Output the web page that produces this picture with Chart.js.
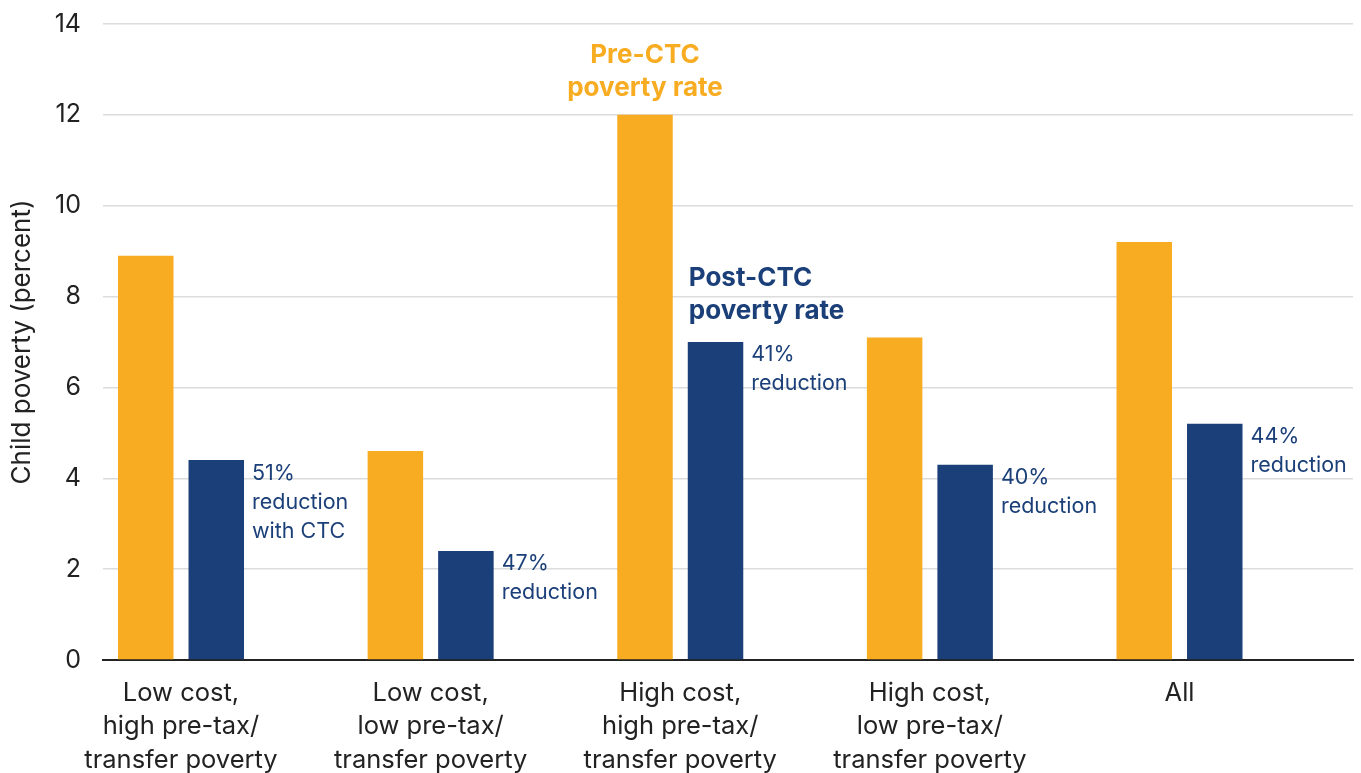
<!DOCTYPE html>
<html>
<head>
<meta charset="utf-8">
<script src="https://cdn.jsdelivr.net/npm/chart.js@4/dist/chart.umd.min.js"></script>
<style>
  body { margin: 0; background: #fff; }
  #wrap { width: 1361px; height: 773px; }
</style>
</head>
<body>
<div id="wrap"><canvas id="myChart"></canvas></div>
<script>
var categories = [
  ['Low cost,', 'high pre-tax/', 'transfer poverty'],
  ['Low cost,', 'low pre-tax/', 'transfer poverty'],
  ['High cost,', 'high pre-tax/', 'transfer poverty'],
  ['High cost,', 'low pre-tax/', 'transfer poverty'],
  ['All']
]
var pre_ctc = [8.9, 4.6, 12.0, 7.1, 9.2]
var post_ctc = [4.4, 2.4, 7.0, 4.3, 5.2]
var reduction_labels = [
  ['51%', 'reduction', 'with CTC'],
  ['47%', 'reduction'],
  ['41%', 'reduction'],
  ['40%', 'reduction'],
  ['44%', 'reduction']
]
var y_ticks = [0, 2, 4, 6, 8, 10, 12, 14]

var orange = '#F7AC22'
var navy = '#1B3F78'
var fontFamily = 'Inter, "Noto Sans", sans-serif'

function toPoints(values) {
  return values.map(function (v, i) { return { x: i, y: v } })
}

// text next to / above the bars, placed from the bar elements
var annotations = {
  id: 'annotations',
  afterDatasetsDraw: function (chart) {
    var ctx = chart.ctx
    var preBars = chart.getDatasetMeta(0).data
    var postBars = chart.getDatasetMeta(1).data
    ctx.save()
    ctx.textBaseline = 'middle'

    ctx.fillStyle = navy
    ctx.textAlign = 'left'
    ctx.font = '21.5px ' + fontFamily
    postBars.forEach(function (bar, i) {
      var x = bar.x + bar.width / 2 + 8
      reduction_labels[i].forEach(function (line, j) {
        ctx.fillText(line, x, bar.y + 13 + j * 29)
      })
    })

    ctx.font = 'bold 26px ' + fontFamily
    var b = preBars[2]
    ctx.fillStyle = orange
    ctx.textAlign = 'center'
    ctx.fillText('Pre-CTC', b.x, b.y - 60)
    ctx.fillText('poverty rate', b.x, b.y - 27)

    b = postBars[2]
    ctx.fillStyle = navy
    ctx.textAlign = 'left'
    ctx.fillText('Post-CTC', b.x - b.width / 2 + 1, b.y - 64)
    ctx.fillText('poverty rate', b.x - b.width / 2 + 1, b.y - 31)
    ctx.restore()
  }
}

var ctx = document.getElementById('myChart').getContext('2d')
var myChart = new Chart(ctx, {
  type: 'bar',
  data: {
    datasets: [{
      label: 'Pre-CTC poverty rate',
      data: toPoints(pre_ctc),
      backgroundColor: orange,
      categoryPercentage: 0.565,
      barPercentage: 0.787
    }, {
      label: 'Post-CTC poverty rate',
      data: toPoints(post_ctc),
      backgroundColor: navy,
      categoryPercentage: 0.565,
      barPercentage: 0.787
    }]
  },
  plugins: [annotations],
  options: {
    responsive: true,
    maintainAspectRatio: false,
    animation: false,
    layout: {
      padding: { top: 24, right: 8, left: 0, bottom: 0 }
    },
    plugins: {
      legend: { display: false },
      tooltip: { enabled: false }
    },
    scales: {
      x: {
        type: 'linear',
        offset: false,
        min: -0.3125,
        max: 4.695,
        afterFit: function (scale) {
          scale.height = 113
        },
        grid: { display: false },
        border: { display: true, color: '#222', width: 2 },
        ticks: {
          stepSize: 1,
          includeBounds: false,
          autoSkip: false,
          maxRotation: 0,
          padding: 9,
          color: '#222',
          font: { family: fontFamily, size: 25.5, lineHeight: 1.3 },
          callback: function (value) {
            return Number.isInteger(value) ? categories[value] : ''
          }
        }
      },
      y: {
        min: 0,
        max: 14,
        afterBuildTicks: function (scale) {
          scale.ticks = y_ticks.map(function (v) { return { value: v } })
        },
        afterFit: function (scale) {
          scale.width = 103
          scale.paddingTop = 0
          scale.paddingBottom = 0
        },
        grid: { color: '#dcdcdc', lineWidth: 1.5, drawTicks: false },
        border: { display: false },
        ticks: {
          padding: 22,
          color: '#222',
          font: { family: fontFamily, size: 25 }
        },
        title: {
          display: true,
          text: 'Child poverty (percent)',
          color: '#222',
          padding: { top: 7, bottom: 0 },
          font: { family: fontFamily, size: 26 }
        }
      }
    }
  }
})
</script>
</body>
</html>
